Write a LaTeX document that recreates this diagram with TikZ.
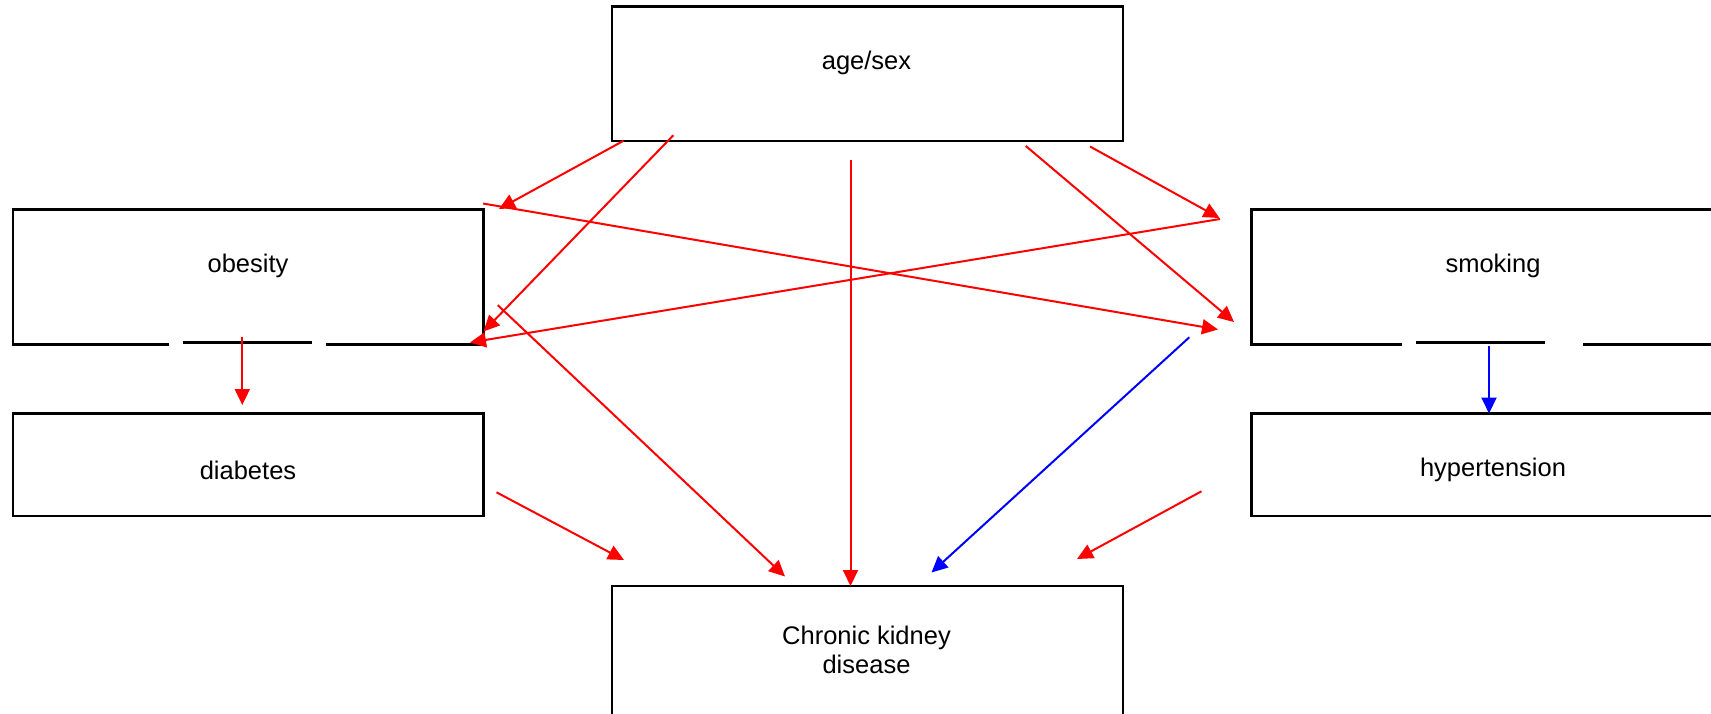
\documentclass[tikz,border=0pt]{standalone}
\usepackage{fontspec}
\setmainfont{Liberation Sans}
\usetikzlibrary{arrows.meta,calc}
\begin{document}
\begin{tikzpicture}[x=1pt,y=-1pt,
  box/.style={draw=black,line width=2.2pt,rectangle,inner sep=0pt,outer sep=0pt},
  openbox/.style={rectangle,inner sep=0pt,outer sep=0pt},
  edge/.style={draw=black,line width=2.2pt},
  lbl/.style={font=\fontsize{25.5}{29.5}\selectfont,align=center,inner sep=0pt},
  redarr/.style={draw=red,line width=2pt,-{Triangle[length=16pt,width=15pt]}},
  bluearr/.style={draw=blue,line width=2pt,-{Triangle[length=16pt,width=15pt]}}]
\useasboundingbox (0,0) rectangle (1711,714);

% boxes
\node[box,minimum width=511pt,minimum height=134.5pt] (age) at (867.5,73.75) {};
\node[openbox,minimum width=470.5pt,minimum height=135pt] (obes) at (248.25,277) {};
\node[box,minimum width=470.5pt,minimum height=102.5pt] (diab) at (248.25,464.75) {};
\node[openbox,minimum width=483.5pt,minimum height=135pt] (smok) at (1493.25,277) {};
\node[box,minimum width=483.5pt,minimum height=102.5pt] (hyp) at (1493.25,464.75) {};
\node[box,minimum width=511pt,minimum height=174pt] (ckd) at (867.5,673) {};

% obesity box outline with gapped bottom edge
\draw[edge] (169,344.5) -- (obes.south west) -- (obes.north west) -- (obes.north east) -- (obes.south east) -- (326,344.5);
\draw[edge] (183,342.5) -- (312,342.5);
% smoking box outline with gapped bottom edge
\draw[edge] (1402,344.5) -- (smok.south west) -- (smok.north west) -- (smok.north east) -- (smok.south east) -- (1583,344.5);
\draw[edge] (1416,342.5) -- (1545,342.5);

% labels
\node[lbl] (agelbl) at (866.5,63) {age/sex};
\node[lbl] (obeslbl) at (248,266) {obesity};
\node[lbl] (diablbl) at (248,470) {diabetes};
\node[lbl] (smoklbl) at (1493,266) {smoking};
\node[lbl] (hyplbl) at (1493,470) {hypertension};
\node[lbl] (ckdlbl) at (866.5,650) {Chronic kidney\\disease};

% connector end points
\coordinate (a1s) at (623.5,140.8);  \coordinate (a1e) at (499,209);
\coordinate (a2s) at (673.3,135.3);  \coordinate (a2e) at (483.5,331.5);
\coordinate (a3s) at (850.5,160.4);  \coordinate (a3e) at (850.5,586);
\coordinate (a4s) at (1025.8,146);   \coordinate (a4e) at (1234,322);
\coordinate (a5s) at (1090,146.5);   \coordinate (a5e) at (1219.5,218);
\coordinate (a6s) at (483,203.5);    \coordinate (a6e) at (1218,329.5);
\coordinate (a7s) at (1220,219);     \coordinate (a7e) at (470,342.5);
\coordinate (a8s) at (497.8,305.2);  \coordinate (a8e) at (785,576.5);
\coordinate (a9s) at (242.3,336.5);  \coordinate (a9e) at (242.3,405);
\coordinate (b1s) at (1189.3,337.3); \coordinate (b1e) at (931.5,572.5);
\coordinate (a11s) at (496.5,492.3); \coordinate (a11e) at (624,560);
\coordinate (a12s) at (1201.5,491.3);\coordinate (a12e) at (1077,559);
\coordinate (b2s) at (1489,346);     \coordinate (b2e) at (1489,413.5);

% connectors
\draw[redarr] (a1s) -- (a1e);
\draw[redarr] (a2s) -- (a2e);
\draw[redarr] (a3s) -- (a3e);
\draw[redarr] (a4s) -- (a4e);
\draw[redarr] (a5s) -- (a5e);
\draw[redarr] (a6s) -- (a6e);
\draw[redarr] (a7s) -- (a7e);
\draw[redarr] (a8s) -- (a8e);
\draw[redarr] (a9s) -- (a9e);
\draw[bluearr] (b1s) -- (b1e);
\draw[redarr] (a11s) -- (a11e);
\draw[redarr] (a12s) -- (a12e);
\draw[bluearr] (b2s) -- (b2e);
\end{tikzpicture}
\end{document}
